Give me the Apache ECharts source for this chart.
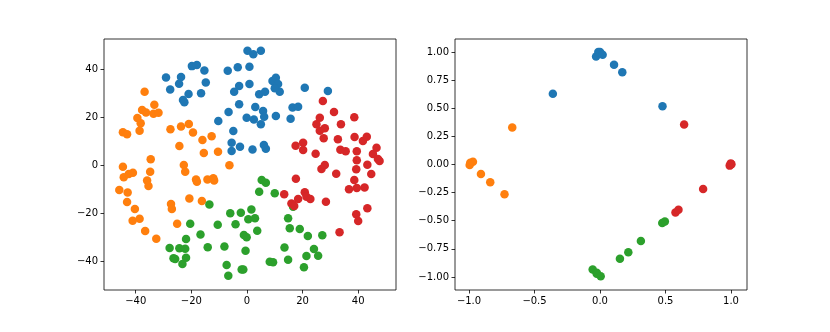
<!DOCTYPE html>
<html>
<head>
<meta charset="utf-8">
<script src="https://cdn.jsdelivr.net/npm/echarts@6.0.0/dist/echarts.min.js"></script>
<style>
  html, body { margin: 0; padding: 0; background: #fff; }
  #main { width: 830px; height: 332px; }
</style>
</head>
<body>
<div id="main"></div>
<script>
// left panel: raw clusters
const rawBlue = [[0.2,47.6],[2.3,46.1],[5,47.6],[-19.8,41.2],[-18,41.7],[-15.3,39.4],[-6.9,39.3],[-3.3,40.7],[0.9,40.9],
  [-29.1,36.5],[-23.7,36.7],[-24.4,33.9],[-27.6,31.5],[-14.8,34.4],[-21,29.6],[-16.5,29.9],[-23,27.1],[-22.5,26.1],
  [-2.8,32.9],[-4.6,30.5],[0.9,33.75],[-2.8,25.3],[-6.6,22.1],[-0.1,19.7],[-10.3,18.3],[-4.9,14.2],[-5.5,9.3],
  [-2.5,7.6],[-5.5,5.8],[9.2,35],[10.4,36.4],[11.2,33.75],[11.8,30.5],[10,32],[4.4,29.5],[6.5,30.5],[20.8,32.2],
  [29.1,30.8],[3,24.2],[5.8,22.5],[6.2,20.1],[2.5,19],[5,17],[10.4,20.4],[15.7,19.3],[16.4,24],[18.4,24.3],
  [2,6.5],[6.1,8.3],[6.8,6.8]];
const rawOrange = [[-36.8,30.5],[-33.3,25.1],[-37.7,22.9],[-36.3,21.9],[-33.6,21.4],[-31.8,21.8],[-39.4,19.6],
  [-38.2,17.4],[-38.6,14.3],[-44.6,13.6],[-43.1,12.8],[-27.5,14.9],[-23.7,16],[-20.9,17.1],[-19.4,13.5],[-16,10.4],
  [-12.7,12],[-24.3,7.9],[-15.5,5],[-10.4,5.5],[-34.6,2.4],[-44.6,-0.7],[-22.7,0],[-22.2,-2.8],[-6.3,-0.1],
  [-44.3,-5.1],[-42.5,-3.75],[-41,-3.2],[-34.8,-2.8],[-35.9,-6.5],[-35.4,-8.75],[-18.3,-6],[-18,-7],[-14.2,-6],
  [-12.1,-5.5],[-11.8,-6.5],[-45.9,-10.4],[-42.9,-11.5],[-43.1,-15.4],[-27.3,-16.25],[-27,-18.3],[-20.7,-14],
  [-16.2,-15],[-40.3,-18.3],[-41.1,-23.2],[-38.6,-22.4],[-25.1,-24.5],[-36.6,-27.5],[-32.6,-30.7]];
const rawGreen = [[-13.5,-16.5],[-20.4,-24.5],[-10.5,-24.9],[-6,-20.1],[-2.2,-19.9],[0.5,-22.6],[-4.1,-24.7],
  [-16.7,-29],[-21.9,-30.8],[-27.8,-34.6],[-24.3,-34.7],[-22.2,-34.9],[-26.4,-38.9],[-25.8,-39.2],[-21.9,-38.6],
  [-23.2,-41.25],[-14.1,-34.3],[-8.1,-34],[-1.1,-29.2],[-0.1,-30.1],[-0.5,-35.7],[-7.3,-41.7],[-6.7,-46.1],
  [-1.9,-43.5],[-1.3,-43.5],[5.3,-6.25],[6.8,-7.4],[4.4,-11.1],[10,-11.8],[1.6,-18.5],[2.9,-22.2],[3.7,-27.4],
  [16.6,-17.4],[14.8,-22.2],[15.4,-26.4],[19,-26.7],[21.9,-29.6],[27.1,-29.3],[13.5,-34.4],[24.1,-35],
  [8.2,-40.3],[9.4,-40.5],[14.8,-39.5],[21.4,-37.9],[25.6,-37.8],[20.5,-42.6]];
const rawRed = [[27.3,26.7],[31.3,22.1],[38.6,19.9],[26.2,19.7],[25,17],[28,15.3],[26.2,14.3],[33.8,17],
  [27.6,11.1],[32.7,10.7],[38.7,11.7],[41.7,10],[43.1,11.8],[17.5,8],[20.2,9.3],[20.2,6.25],[24.7,4.7],
  [33.6,6.4],[35.5,5.7],[39.5,5.7],[46.6,7.2],[45.3,4.6],[47.1,2.5],[47.7,1.7],[39.5,2],[26.8,-1.7],[28,0],
  [39.3,-1.8],[43.3,0.1],[44.7,-3.75],[32.1,-3.6],[17.6,-5.7],[38.6,-6.25],[36.7,-10.1],[39.5,-9.6],[42.3,-9.4],
  [13.4,-12.2],[20.8,-11.4],[21.4,-13.2],[22.8,-14.2],[18.4,-14.2],[16,-16],[17,-17.1],[28.4,-15.3],[43.3,-18],
  [39.3,-20.5],[40,-23.3],[33.3,-28]];

// right panel: normalised points
const normBlue = [[-0.03,0.96],[-0.013,1.0],[0,1.0],[0.02,0.975],[-0.36,0.63],[0.107,0.887],[0.17,0.82],[0.477,0.518]];
const normOrange = [[-0.67,0.33],[-0.99,0.016],[-0.97,0.025],[-0.995,-0.004],[-0.909,-0.084],[-0.838,-0.158],[-0.729,-0.264]];
const normGreen = [[-0.056,-0.934],[-0.025,-0.963],[-0.025,-0.972],[0.005,-0.993],[0.152,-0.839],[0.216,-0.78],
  [0.312,-0.68],[0.475,-0.52],[0.495,-0.506]];
const normRed = [[0.642,0.356],[0.998,0.01],[0.576,-0.426],[0.599,-0.403],[0.787,-0.217],[0.99,-0.01],[1.003,0.002]];

const leftTicks = [-40, -20, 0, 20, 40];
const rightXTicks = [-1, -0.5, 0, 0.5, 1];
const rightYTicks = [-1, -0.75, -0.5, -0.25, 0, 0.25, 0.5, 0.75, 1];

const colors = ['#1f77b4', '#ff7f0e', '#2ca02c', '#d62728'];

function fmt(digits) {
  return function (v) {
    const s = Math.abs(v).toFixed(digits);
    return v < -1e-9 ? '\u2212' + s : s;
  };
}

function axis(gridIndex, min, max, ticks, digits) {
  return {
    type: 'value',
    gridIndex: gridIndex,
    min: min,
    max: max,
    splitLine: { show: false },
    axisLine: { show: false, onZero: false },
    axisTick: {
      show: true,
      length: 3.5,
      customValues: ticks,
      lineStyle: { color: '#000', width: 0.8 }
    },
    axisLabel: {
      customValues: ticks,
      formatter: fmt(digits),
      color: '#000',
      fontSize: 10,
      fontFamily: 'DejaVu Sans',
      margin: 6,
      hideOverlap: false
    }
  };
}

function scatter(data, idx, color) {
  return {
    type: 'scatter',
    xAxisIndex: idx,
    yAxisIndex: idx,
    data: data,
    symbolSize: 8.5,
    itemStyle: { color: color, opacity: 1 },
    silent: true
  };
}

const chart = echarts.init(document.getElementById('main'), null, { renderer: 'canvas' });
chart.setOption({
  animation: false,
  backgroundColor: '#fff',
  grid: [
    { left: 104, right: 434, top: 39, bottom: 42, show: true, borderColor: '#000', borderWidth: 0.8, backgroundColor: 'transparent' },
    { left: 455, right: 83, top: 39, bottom: 42, show: true, borderColor: '#000', borderWidth: 0.8, backgroundColor: 'transparent' }
  ],
  xAxis: [
    axis(0, -51.4, 53.6, leftTicks, 0),
    axis(1, -1.107, 1.122, rightXTicks, 1)
  ],
  yAxis: [
    axis(0, -52.08, 52.5, leftTicks, 0),
    axis(1, -1.116, 1.116, rightYTicks, 2)
  ],
  series: [
    scatter(rawBlue, 0, colors[0]),
    scatter(rawOrange, 0, colors[1]),
    scatter(rawGreen, 0, colors[2]),
    scatter(rawRed, 0, colors[3]),
    scatter(normBlue, 1, colors[0]),
    scatter(normOrange, 1, colors[1]),
    scatter(normGreen, 1, colors[2]),
    scatter(normRed, 1, colors[3])
  ]
});
</script>
</body>
</html>
